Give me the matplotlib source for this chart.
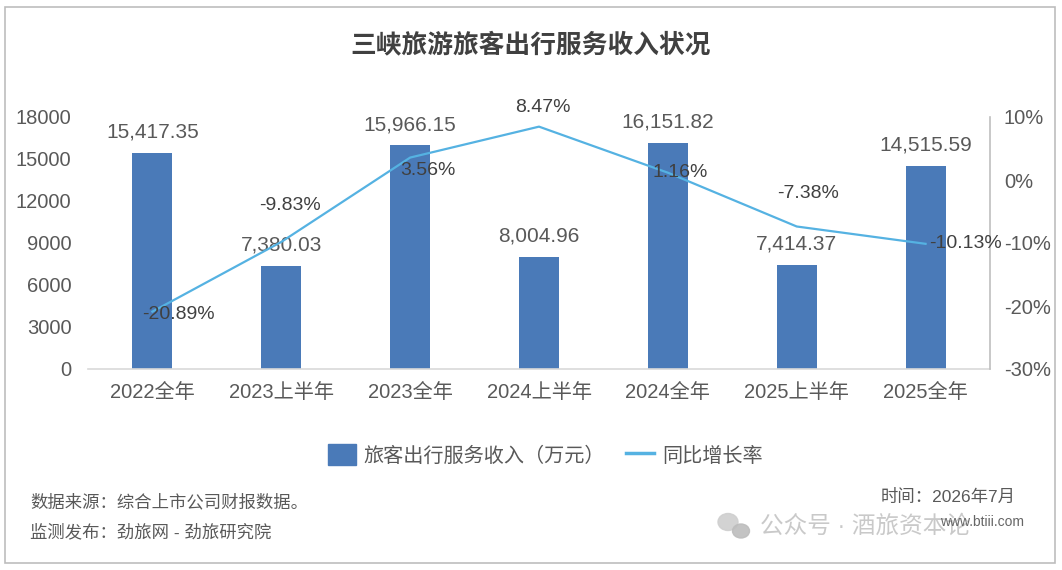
import matplotlib
matplotlib.use('Agg')
import matplotlib.pyplot as plt
from matplotlib.patches import Rectangle, Ellipse
import numpy as np

plt.rcParams['font.family'] = ['Liberation Sans', 'Noto Sans CJK SC']

# 数据
categories = ['2022全年', '2023上半年', '2023全年', '2024上半年', '2024全年', '2025上半年', '2025全年']
revenue = [15417.35, 7380.03, 15966.15, 8004.96, 16151.82, 7414.37, 14515.59]
growth = [-20.89, -9.83, 3.56, 8.47, 1.16, -7.38, -10.13]
# 增长率标签的偏移（点）
growth_offsets = [(19, -2), (6, 26), (13, -9), (3, 14), (9, 0), (8, 24), (29, 0)]

bar_color = '#4a7ab8'
line_color = '#55b2e2'
text_gray = '#595959'

fig = plt.figure(figsize=(10.62, 5.70), dpi=100)
fig.patch.set_facecolor('white')

# 外框
fig.add_artist(Rectangle((5 / 1062, 7 / 570), 1050 / 1062, 556 / 570, transform=fig.transFigure,
                         fill=False, edgecolor='#bdbdbd', linewidth=1.2))

ax = fig.add_axes([88 / 1062, 1 - 369 / 570, 902 / 1062, 252 / 570])
x = np.arange(len(categories))
bars = ax.bar(x, revenue, width=0.31, color=bar_color, zorder=2)
ax.set_xlim(-0.5, len(categories) - 0.5)
ax.set_ylim(0, 18000)
ax.set_yticks(np.arange(0, 18001, 3000))
ax.set_xticks(x)
ax.set_xticklabels(categories)
ax.tick_params(axis='both', length=0, labelsize=14.5, colors=text_gray)
ax.tick_params(axis='x', pad=10)
ax.tick_params(axis='y', pad=12)
for s in ['top', 'left', 'right']:
    ax.spines[s].set_visible(False)
ax.spines['bottom'].set_color('#d9d9d9')
ax.spines['bottom'].set_linewidth(1.2)

for xi, v in zip(x, revenue):
    ax.annotate(f'{v:,.2f}', (xi, v), xytext=(0, 15), textcoords='offset points',
                ha='center', va='center', fontsize=15, color=text_gray, zorder=5)

ax2 = ax.twinx()
ax2.plot(x, growth, color=line_color, linewidth=1.6, zorder=3)
ax2.set_ylim(-30, 10)
ax2.set_yticks(np.arange(-30, 11, 10))
ax2.set_yticklabels([f'{t}%' for t in range(-30, 11, 10)])
ax2.tick_params(axis='y', length=0, labelsize=14.5, colors=text_gray, pad=10)
for s in ['top', 'left', 'bottom']:
    ax2.spines[s].set_visible(False)
ax2.spines['right'].set_color('#bfbfbf')
ax2.spines['right'].set_linewidth(1.2)

for xi, v, off in zip(x, growth, growth_offsets):
    ax2.annotate(f'{v:.2f}%', (xi, v), xytext=off, textcoords='offset points',
                 ha='center', va='center', fontsize=14, color='#404040', zorder=5)

# 标题
fig.text(0.5, 1 - 45 / 570, '三峡旅游旅客出行服务收入状况', ha='center', va='center',
         fontsize=18.5, fontweight='bold', color='#404040')

# 图例
handles = [Rectangle((0, 0), 1, 1, color=bar_color),
           plt.Line2D([0], [0], color=line_color, linewidth=2.5)]
fig.legend(handles, ['旅客出行服务收入（万元）', '同比增长率'], loc='center',
           bbox_to_anchor=(545 / 1062, 1 - 455 / 570), ncol=2, frameon=False,
           fontsize=14.5, labelcolor=text_gray, handlelength=1.4, handleheight=1.2,
           handletextpad=0.4, columnspacing=1.0)

# 底部说明
fig.text(30 / 1062, 1 - 502 / 570, '数据来源：综合上市公司财报数据。', ha='left', va='center',
         fontsize=12.5, color=text_gray)
fig.text(30 / 1062, 1 - 532 / 570, '监测发布：劲旅网 - 劲旅研究院', ha='left', va='center',
         fontsize=12.5, color=text_gray)
fig.text(1016 / 1062, 1 - 497 / 570, '时间：2026年7月', ha='right', va='center',
         fontsize=12.5, color=text_gray)

# 水印
fig.add_artist(Ellipse((728 / 1062, 1 - 522 / 570), 20 / 1062, 17 / 570, transform=fig.transFigure,
                       color='#cfcfcf', alpha=0.9))
fig.add_artist(Ellipse((741 / 1062, 1 - 531 / 570), 17 / 1062, 14 / 570, transform=fig.transFigure,
                       color='#bdbdbd', alpha=0.9))
fig.text(760 / 1062, 1 - 527 / 570, '公众号 · 酒旅资本论', ha='left', va='center',
         fontsize=17, color='#c4c4c4', alpha=0.9)
fig.text(1024 / 1062, 1 - 522 / 570, 'www.btiii.com', ha='right', va='center',
         fontsize=10, color='#666666')

fig.savefig('out.png', dpi=100)
